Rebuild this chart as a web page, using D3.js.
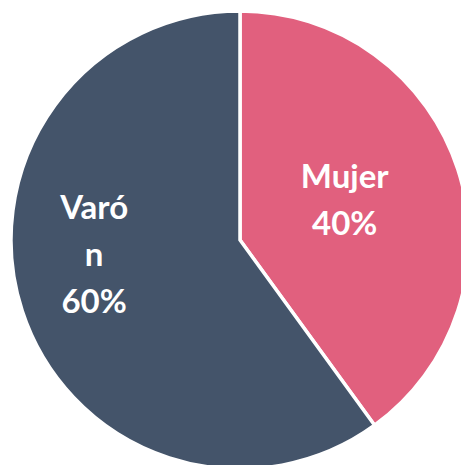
<!DOCTYPE html>
<html>
<head>
<meta charset="utf-8">
<script src="https://cdn.jsdelivr.net/npm/d3@7"></script>
<style>
    body { margin: 0; background: #ffffff; }
    svg { display: block; }
</style>
</head>
<body>
<div id="pie-chart"></div>
<script>
// chart data
var categories = ["Mujer", "Varón"];
var values = [40, 60];
var labelLines = [["Mujer"], ["Varó", "n"]];
var colors = ["#E1607E", "#44546A"];

var width = 461;
var height = 465;
var cx = 240;
var cy = 240;
var radius = 229;

// where excel dropped the labels (fraction of radius, angle nudge in degrees)
var labelRadius = [0.49, 0.64];
var labelNudge = [-3, 12.5];
var lineHeight = 47;

var svg = d3.select('#pie-chart')
    .append('svg')
    .attr('width', width)
    .attr('height', height);

var g = svg.append('g')
    .attr('transform', 'translate(' + cx + ',' + cy + ')');

var pie = d3.pie()
    .sort(null)
    .value(function(d) { return d; });

var arc = d3.arc()
    .innerRadius(0)
    .outerRadius(radius);

var slices = pie(values);

g.selectAll('path')
    .data(slices)
    .enter()
    .append('path')
    .attr('d', arc)
    .attr('fill', function(d, i) { return colors[i]; })
    .attr('stroke', '#ffffff')
    .attr('stroke-width', 3.5)
    .attr('stroke-linejoin', 'miter');

var total = d3.sum(values);

var labels = g.selectAll('text')
    .data(slices)
    .enter()
    .append('text')
    .attr('text-anchor', 'middle')
    .attr('fill', '#ffffff')
    .style('font-family', 'Lato, "Open Sans", sans-serif')
    .style('font-weight', 700)
    .style('font-size', '33px')
    .each(function(d, i) {
        var mid = (d.startAngle + d.endAngle) / 2 + labelNudge[i] * Math.PI / 180;
        var r = radius * labelRadius[i];
        var x = Math.sin(mid) * r;
        var y = -Math.cos(mid) * r;
        var lines = labelLines[i].concat([Math.round(d.value / total * 100) + '%']);
        var first = y - (lines.length - 1) / 2 * lineHeight + 12;
        var t = d3.select(this);
        lines.forEach(function(s, k) {
            t.append('tspan')
                .attr('x', x)
                .attr('y', first + k * lineHeight)
                .text(s);
        });
    });
</script>
</body>
</html>
